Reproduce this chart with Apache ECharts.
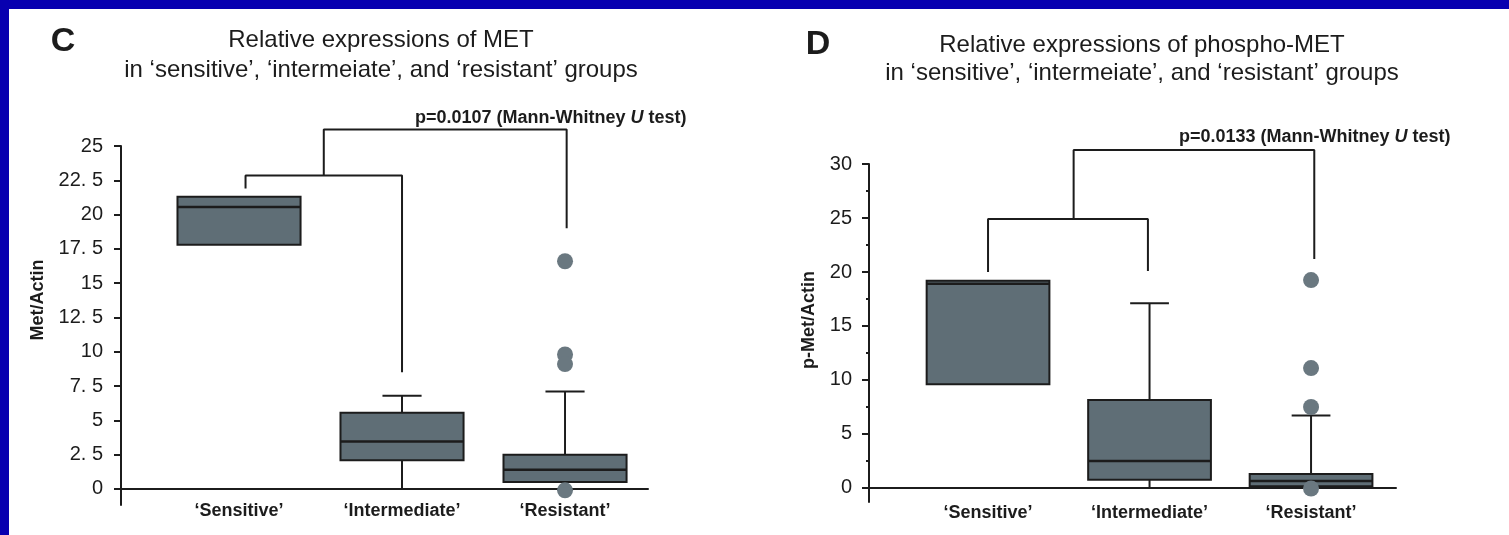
<!DOCTYPE html>
<html>
<head>
<meta charset="utf-8">
<script src="https://cdn.jsdelivr.net/npm/echarts@6/dist/echarts.min.js"></script>
<style>
  html, body { margin: 0; padding: 0; background: #ffffff; }
  #frame { position: absolute; left: 0; top: 0; width: 1509px; height: 535px; box-sizing: border-box;
           border-top: 9px solid #0800b0; border-left: 9px solid #0800b0; background: #ffffff; }
  #chart { position: absolute; left: 0; top: 0; width: 1509px; height: 535px; }
</style>
</head>
<body>
<div id="frame"></div>
<div id="chart"></div>
<script>
// ---------- data ----------
const categories = ['\u2018Sensitive\u2019', '\u2018Intermediate\u2019', '\u2018Resistant\u2019'];

// Panel C: MET / Actin
const metTicks = [0, 2.5, 5, 7.5, 10, 12.5, 15, 17.5, 20, 22.5, 25];
const metMin    = [17.8, 0.0, 0.5];
const metQ1     = [17.8, 2.1, 0.5];
const metMedian = [20.55, 3.45, 1.4];
const metQ3     = [21.3, 5.55, 2.5];
const metMax    = [21.3, 6.8, 7.1];
const metOutlierCat = [2, 2, 2, 2];
const metOutlierVal = [16.6, 9.8, 9.1, -0.1];
const metBracketInner = [[0.04, 21.9], [0.04, 22.85], [1.0, 22.85], [1.0, 8.5]];
const metBracketOuter = [[0.52, 22.85], [0.52, 26.2], [2.01, 26.2], [2.01, 19.0]];
const metPText = 'p=0.0107';

// Panel D: phospho-MET / Actin
const pmetTicks = [0, 5, 10, 15, 20, 25, 30];
const pmetMinorTicks = [2.5, 7.5, 12.5, 17.5, 22.5, 27.5];
const pmetMin    = [9.6, 0.0, 0.1];
const pmetQ1     = [9.6, 0.75, 0.15];
const pmetMedian = [18.9, 2.5, 0.65];
const pmetQ3     = [19.2, 8.15, 1.3];
const pmetMax    = [19.2, 17.1, 6.7];
const pmetOutlierCat = [2, 2, 2, 2];
const pmetOutlierVal = [19.25, 11.1, 7.5, -0.05];
const pmetBracketInner = [[0.0, 20.0], [0.0, 24.9], [0.99, 24.9], [0.99, 20.1]];
const pmetBracketOuter = [[0.53, 24.9], [0.53, 31.3], [2.02, 31.3], [2.02, 21.2]];
const pmetPText = 'p=0.0133';

// ---------- styling ----------
const INK = '#1c1c1c';
const BOX_FILL = '#5f6e76';
const DOT = '#6a7880';
const FONT = '"Liberation Sans", Arial, sans-serif';

function boxRows(mn, q1, md, q3, mx) {
  return categories.map((c, i) => [i, mn[i], q1[i], md[i], q3[i], mx[i]]);
}

function boxRenderer(boxFrac, capFrac) {
  return function (params, api) {
    const x = api.value(0);
    const lo = api.value(1), q1 = api.value(2), med = api.value(3), q3 = api.value(4), hi = api.value(5);
    const unit = api.size([1, 0])[0];
    const bw = unit * boxFrac, cw = unit * capFrac;
    const c = api.coord([x, 0])[0];
    const y = v => api.coord([x, v])[1];
    const ls = { stroke: INK, lineWidth: 2 };
    const ch = [];
    if (hi > q3) {
      ch.push({ type: 'line', shape: { x1: c, y1: y(hi), x2: c, y2: y(q3) }, style: ls });
      ch.push({ type: 'line', shape: { x1: c - cw / 2, y1: y(hi), x2: c + cw / 2, y2: y(hi) }, style: ls });
    }
    if (lo < q1) {
      ch.push({ type: 'line', shape: { x1: c, y1: y(lo), x2: c, y2: y(q1) }, style: ls });
    }
    ch.push({ type: 'rect', shape: { x: c - bw / 2, y: y(q3), width: bw, height: y(q1) - y(q3) },
              style: { fill: BOX_FILL, stroke: INK, lineWidth: 2 } });
    ch.push({ type: 'line', shape: { x1: c - bw / 2, y1: y(med), x2: c + bw / 2, y2: y(med) },
              style: { stroke: INK, lineWidth: 2.5 } });
    return { type: 'group', children: ch };
  };
}

function xAxisFor(gridIndex, min, max, margin) {
  return {
    type: 'value', gridIndex, min, max,
    splitLine: { show: false },
    axisTick: { show: false },
    axisLine: { show: true, onZero: true, lineStyle: { color: INK, width: 2 } },
    axisLabel: {
      customValues: [0, 1, 2],
      formatter: v => categories[Math.round(v)],
      margin, fontFamily: FONT, fontWeight: 'bold', fontSize: 18, color: INK
    }
  };
}

function yAxisFor(gridIndex, min, max, ticks, margin) {
  return {
    type: 'value', gridIndex, min, max, position: 'left',
    splitLine: { show: false },
    axisLine: { show: true, onZero: false, lineStyle: { color: INK, width: 2 } },
    axisTick: { show: true, customValues: ticks, length: 7, lineStyle: { color: INK, width: 2 } },
    axisLabel: {
      customValues: ticks, margin,
      formatter: v => String(v).replace('.', '. '),
      fontFamily: FONT, fontSize: 20, color: INK
    }
  };
}

const chart = echarts.init(document.getElementById('chart'), null, { renderer: 'canvas' });

const pRich = {
  b: { fontFamily: FONT, fontWeight: 'bold', fontSize: 18, fill: INK, color: INK },
  i: { fontFamily: FONT, fontWeight: 'bold', fontStyle: 'italic', fontSize: 18, fill: INK, color: INK }
};

chart.setOption({
  animation: false,
  backgroundColor: 'transparent',
  grid: [
    { left: 121, top: 146, width: 527, height: 359 },
    { left: 869, top: 164, width: 527, height: 338 }
  ],
  xAxis: [
    xAxisFor(0, -0.724, 2.509, -3),
    xAxisFor(1, -0.737, 2.526, 2)
  ],
  yAxis: [
    yAxisFor(0, -1.17, 25, metTicks, 18),
    yAxisFor(1, -1.3, 30, pmetTicks, 17),
    {
      type: 'value', gridIndex: 1, min: -1.3, max: 30, position: 'left', offset: 0,
      splitLine: { show: false }, axisLine: { show: false, onZero: false },
      axisLabel: { show: false },
      axisTick: { show: true, customValues: pmetMinorTicks, length: 3, lineStyle: { color: INK, width: 2 } }
    }
  ],
  graphic: [
    { type: 'text', x: 63, y: 42, style: { text: 'C', font: 'bold 34px ' + FONT, fill: INK, align: 'center', verticalAlign: 'middle' } },
    { type: 'text', x: 381, y: 55, style: { text: 'Relative expressions of MET\nin \u2018sensitive\u2019, \u2018intermeiate\u2019, and \u2018resistant\u2019 groups',
        font: '24px ' + FONT, lineHeight: 30, fill: INK, align: 'center', verticalAlign: 'middle' } },
    { type: 'text', x: 38, y: 300, rotation: Math.PI / 2, style: { text: 'Met/Actin', font: 'bold 18px ' + FONT, fill: INK, align: 'center', verticalAlign: 'middle' } },
    { type: 'text', x: 415, y: 118, style: { text: '{b|' + metPText + ' (Mann-Whitney }{i|U}{b| test)}', rich: pRich, align: 'left', verticalAlign: 'middle' } },

    { type: 'text', x: 818, y: 45, style: { text: 'D', font: 'bold 34px ' + FONT, fill: INK, align: 'center', verticalAlign: 'middle' } },
    { type: 'text', x: 1142, y: 59, style: { text: 'Relative expressions of phospho-MET\nin \u2018sensitive\u2019, \u2018intermeiate\u2019, and \u2018resistant\u2019 groups',
        font: '24px ' + FONT, lineHeight: 28, fill: INK, align: 'center', verticalAlign: 'middle' } },
    { type: 'text', x: 809, y: 320, rotation: Math.PI / 2, style: { text: 'p-Met/Actin', font: 'bold 18px ' + FONT, fill: INK, align: 'center', verticalAlign: 'middle' } },
    { type: 'text', x: 1179, y: 137, style: { text: '{b|' + pmetPText + ' (Mann-Whitney }{i|U}{b| test)}', rich: pRich, align: 'left', verticalAlign: 'middle' } }
  ],
  series: [
    { type: 'custom', xAxisIndex: 0, yAxisIndex: 0, renderItem: boxRenderer(0.755, 0.24),
      encode: { x: 0, y: [1, 2, 3, 4, 5] }, data: boxRows(metMin, metQ1, metMedian, metQ3, metMax), z: 2 },
    { type: 'line', xAxisIndex: 0, yAxisIndex: 0, data: metBracketInner, symbol: 'none', clip: false,
      lineStyle: { color: INK, width: 2 }, z: 3, silent: true },
    { type: 'line', xAxisIndex: 0, yAxisIndex: 0, data: metBracketOuter, symbol: 'none', clip: false,
      lineStyle: { color: INK, width: 2 }, z: 3, silent: true },
    { type: 'scatter', xAxisIndex: 0, yAxisIndex: 0, symbolSize: 16, itemStyle: { color: DOT, opacity: 1 }, z: 5,
      data: metOutlierCat.map((c, i) => [c, metOutlierVal[i]]) },

    { type: 'custom', xAxisIndex: 1, yAxisIndex: 1, renderItem: boxRenderer(0.76, 0.24),
      encode: { x: 0, y: [1, 2, 3, 4, 5] }, data: boxRows(pmetMin, pmetQ1, pmetMedian, pmetQ3, pmetMax), z: 2 },
    { type: 'line', xAxisIndex: 1, yAxisIndex: 1, data: pmetBracketInner, symbol: 'none', clip: false,
      lineStyle: { color: INK, width: 2 }, z: 3, silent: true },
    { type: 'line', xAxisIndex: 1, yAxisIndex: 1, data: pmetBracketOuter, symbol: 'none', clip: false,
      lineStyle: { color: INK, width: 2 }, z: 3, silent: true },
    { type: 'scatter', xAxisIndex: 1, yAxisIndex: 1, symbolSize: 16, itemStyle: { color: DOT, opacity: 1 }, z: 5,
      data: pmetOutlierCat.map((c, i) => [c, pmetOutlierVal[i]]) }
  ]
});
</script>
</body>
</html>
